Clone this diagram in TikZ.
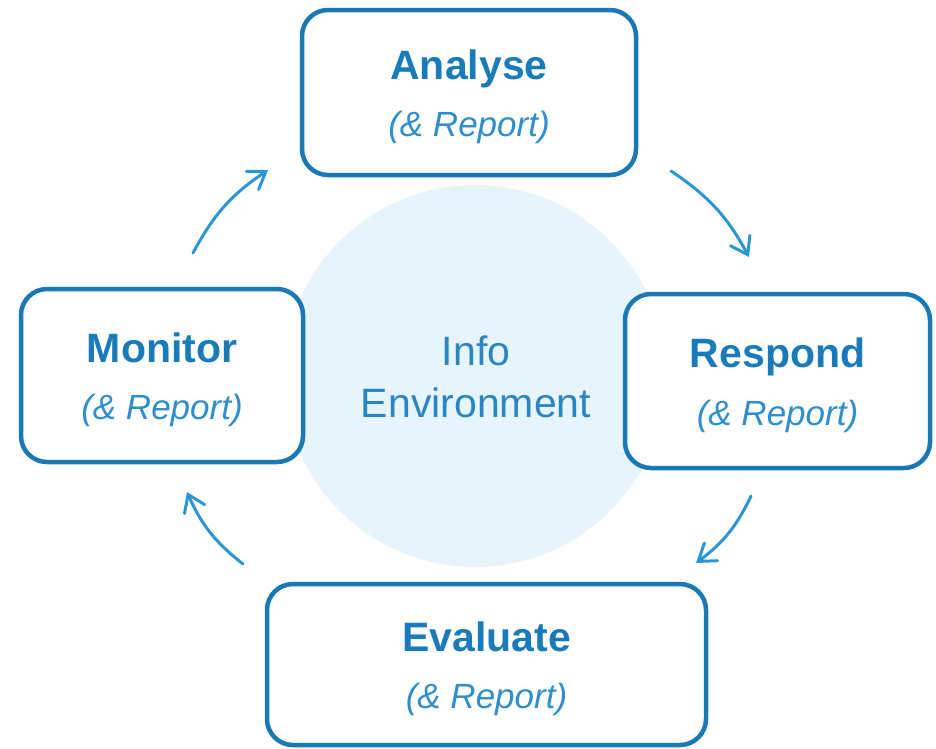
\documentclass[tikz,border=0pt]{standalone}
\usepackage{fontspec}
\setmainfont{Liberation Sans}
\usetikzlibrary{arrows.meta}
\definecolor{boxblue}{HTML}{1A78B4}
\definecolor{txtblue}{HTML}{1A7BBA}
\definecolor{repblue}{HTML}{2F8ECB}
\definecolor{envblue}{HTML}{2A86C2}
\definecolor{arrblue}{HTML}{2B96D2}
\definecolor{circfill}{HTML}{E7F4FB}
\begin{document}
\begin{tikzpicture}[x=1pt,y=-1pt,
  stagebox/.style={draw=boxblue, line width=4.5pt, rounded corners=26pt, fill=white, inner sep=0pt, rectangle},
  titletext/.style={text=txtblue, font=\fontsize{41}{48}\selectfont\bfseries, anchor=base, inner sep=0pt},
  reptext/.style={text=repblue, font=\fontsize{35}{42}\selectfont\itshape, anchor=base, inner sep=0pt},
  envtext/.style={text=envblue, font=\fontsize{41}{48}\selectfont, anchor=base, inner sep=0pt},
  cyclearrow/.style={draw=arrblue, line width=3pt, line cap=round, -{Straight Barb[length=16pt,width=22pt,line cap=round]}, bend left=14}]
\useasboundingbox (0,0) rectangle (936,748);
\fill[white] (0,0) rectangle (936,748);
% central environment circle
\node[circle, fill=circfill, minimum size=382pt, inner sep=0pt] (env) at (475,376) {};
\node[envtext] (envA) at (476,365) {Info};
\node[envtext] (envB) at (476,417) {Environment};
% boxes
\node[stagebox, minimum width=334pt, minimum height=165pt] (boxA) at (469,92.5) {};
\node[stagebox, minimum width=282pt, minimum height=173pt] (boxM) at (162,375.5) {};
\node[stagebox, minimum width=305pt, minimum height=174pt] (boxR) at (777.5,381) {};
\node[stagebox, minimum width=439pt, minimum height=161pt] (boxE) at (486.5,664.5) {};
% texts
\node[titletext] (tA) at ([yshift=13.5pt]boxA.center) {Analyse};
\node[reptext]   (rA) at ([yshift=-44pt]boxA.center) {(\& Report)};
\node[titletext] (tM) at ([yshift=13.5pt]boxM.center) {Monitor};
\node[reptext]   (rM) at ([yshift=-44pt]boxM.center) {(\& Report)};
\node[titletext] (tR) at ([yshift=13.5pt]boxR.center) {Respond};
\node[reptext]   (rR) at ([yshift=-44pt]boxR.center) {(\& Report)};
\node[titletext] (tE) at ([yshift=13.5pt]boxE.center) {Evaluate};
\node[reptext]   (rE) at ([yshift=-44pt]boxE.center) {(\& Report)};
% arrow end points
\coordinate (a1s) at (193,253);
\coordinate (a1e) at (268,170);
\coordinate (a2s) at (671,171);
\coordinate (a2e) at (749,257);
\coordinate (a3s) at (751,496);
\coordinate (a3e) at (696,563);
\coordinate (a4s) at (243,564);
\coordinate (a4e) at (187,492);
\draw[cyclearrow] (a1s) to (a1e);
\draw[cyclearrow] (a2s) to (a2e);
\draw[cyclearrow] (a3s) to (a3e);
\draw[cyclearrow] (a4s) to (a4e);
\end{tikzpicture}
\end{document}
